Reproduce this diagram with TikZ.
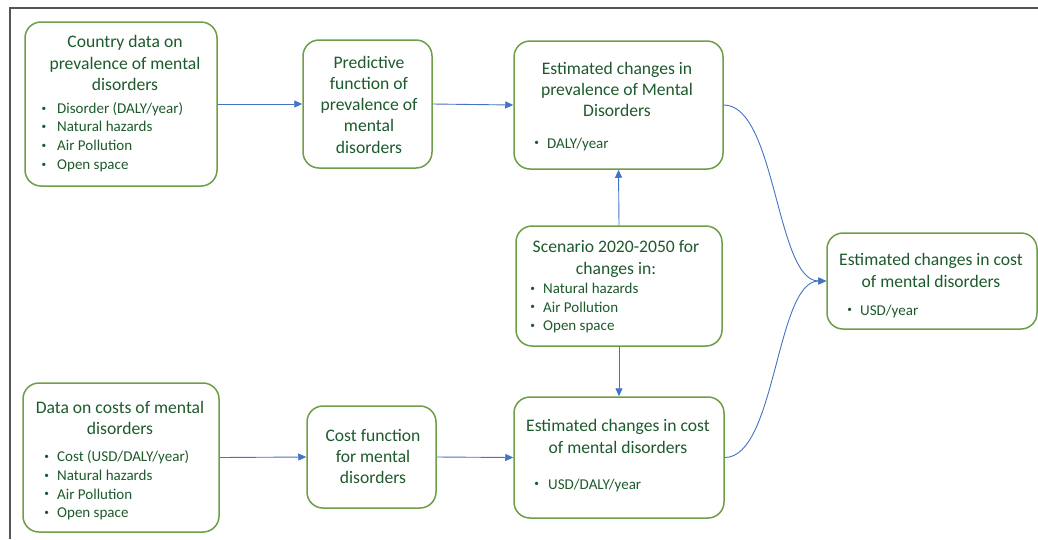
\documentclass[tikz,border=0pt]{standalone}
\usepackage{fontspec}
\setmainfont{Carlito}
\usetikzlibrary{arrows.meta}
\definecolor{boxgreen}{HTML}{6E9E48}
\definecolor{txtgreen}{HTML}{1D5A2C}
\definecolor{arrblue}{HTML}{4472C4}
\definecolor{framegray}{HTML}{555555}
\newcommand\bli[2]{\makebox[#1][l]{\hspace{0.8pt}\raisebox{0.14em}{\scalebox{0.62}{\textbullet}}}#2}
\begin{document}
\begin{tikzpicture}[x=1pt,y=-1pt,
  box/.style={draw=boxgreen,line width=1.5pt,rounded corners=16pt,inner sep=0pt,fill=white},
  ttl/.style={text=txtgreen,font=\fontsize{17.6}{21.2}\selectfont,align=center,inner sep=0pt},
  blt/.style={text=txtgreen,font=\fontsize{15}{18.6}\selectfont,align=left,inner sep=0pt,anchor=west},
  arr/.style={draw=arrblue,line width=0.9pt,-{Triangle[length=8pt,width=7pt]}},
  frame/.style={draw=framegray,line width=1.3pt}]
\useasboundingbox (0,0) rectangle (1038,539);
\draw[frame] (10,539) -- (10,8) -- (1038,8);

% boxes
\node[box,minimum width=192pt,minimum height=164pt] (A) at (121,104) {};
\node[box,minimum width=129pt,minimum height=128pt] (B) at (367.5,104) {};
\node[box,minimum width=209pt,minimum height=128pt] (C) at (618.5,105) {};
\node[box,minimum width=206pt,minimum height=120pt] (D) at (619,286) {};
\node[box,minimum width=210pt,minimum height=121pt] (E) at (619,457.5) {};
\node[box,minimum width=129pt,minimum height=102pt] (F) at (371.5,457) {};
\node[box,minimum width=196pt,minimum height=149pt] (G) at (121,457.5) {};
\node[box,minimum width=210pt,minimum height=96pt] (H) at (932,281) {};

% texts
\node[ttl] (At) at (125,63) {Country data on\\prevalence of mental\\disorders};
\node[blt] (Ab) at (40.5,137) {\bli{16.5pt}{Disorder (DALY/year)}\\\bli{16.5pt}{Natural hazards}\\\bli{16.5pt}{Air Pollution}\\\bli{16.5pt}{Open space}};

\node[ttl] (Bt) at (369,104.6) {Predictive\\function of\\prevalence of\\mental\\disorders};

\node[ttl] (Ct) at (617,89.5) {Estimated changes in\\prevalence of Mental\\Disorders};
\node[blt] (Cb) at (533.3,144) {\bli{13.7pt}{DALY/year}};

\node[ttl] (Dt) at (616,259) {Scenario 2020-2050 for\\changes in:};
\node[blt] (Db) at (529.3,308) {\bli{13.7pt}{Natural hazards}\\\bli{13.7pt}{Air Pollution}\\\bli{13.7pt}{Open space}};

\node[ttl] (Et) at (618,436.5) {Estimated changes in cost\\of mental disorders};
\node[blt] (Eb) at (533.3,485) {\bli{14.7pt}{USD/DALY/year}};

\node[ttl] (Ft) at (373,456.5) {Cost function\\for mental\\disorders};

\node[ttl] (Gt) at (120,418) {Data on costs of mental\\disorders};
\node[blt] (Gb) at (43.3,485.5) {\bli{13.7pt}{Cost (USD/DALY/year)}\\\bli{13.7pt}{Natural hazards}\\\bli{13.7pt}{Air Pollution}\\\bli{13.7pt}{Open space}};

\node[ttl] (Ht) at (931,270.5) {Estimated changes in cost\\of mental disorders};
\node[blt] (Hb) at (846.3,311) {\bli{13.7pt}{USD/year}};

% connectors
\draw[arr] (A.east) -- (B.west);
\draw[arr] (B.east) -- (C.west);
\draw[arr] (D.north) -- (C.south);
\draw[arr] (D.south) -- (E.north);
\draw[arr] (G.east) -- (F.west);
\draw[arr] (F.east) -- (E.west);
\draw[arr] (C.east) .. controls (776,105) and (776,281) .. (H.west);
\draw[arr] (E.east) .. controls (776,457.5) and (776,281) .. (H.west);
\end{tikzpicture}
\end{document}
